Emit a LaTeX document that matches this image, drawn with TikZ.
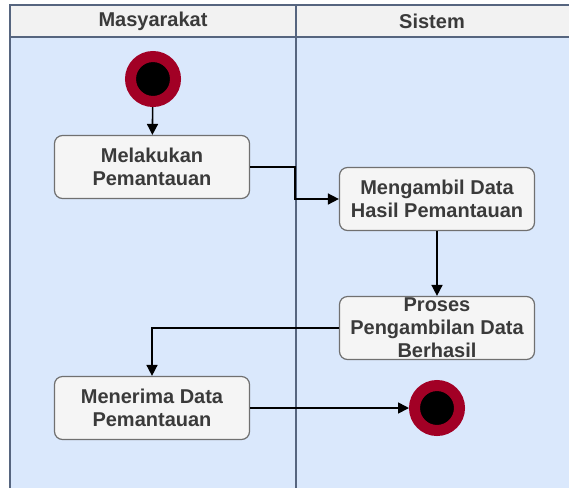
\documentclass[tikz,border=0pt]{standalone}
\usepackage{fontspec}
\setmainfont{Liberation Sans}
\usetikzlibrary{arrows.meta,positioning}
\definecolor{lajur}{HTML}{DAE8FC}
\definecolor{kepala}{HTML}{F2F2F2}
\definecolor{kotak}{HTML}{F5F5F5}
\definecolor{garisKotak}{HTML}{707070}
\definecolor{garisLajur}{HTML}{56657F}
\definecolor{teks}{HTML}{3A3A3A}
\definecolor{merah}{HTML}{A20025}
\tikzset{
    aktivitas/.style={
        rectangle,
        draw=garisKotak,
        fill=kotak,
        rounded corners=8pt,
        align=center,
        line width=1.2pt,
        inner sep=0pt,
        minimum width=195pt,
        minimum height=63pt,
        text=teks,
        font=\fontsize{20}{23}\selectfont\bfseries
    },
    awal/.style={circle, fill=black, draw=merah, line width=11pt,
        minimum size=45pt, inner sep=0pt},
    judul/.style={text=teks, font=\fontsize{20}{23}\selectfont\bfseries},
    alur/.style={-{Triangle[length=11pt,width=11pt]}, line width=1.6pt}
}

\begin{document}
\begin{tikzpicture}[x=1pt, y=-1pt]
    \useasboundingbox (0,0) rectangle (569,488);
    % lajur
    \fill[lajur] (10,37) rectangle (569,488);
    \fill[kepala] (10,5) rectangle (569,37);
    \draw[garisLajur, line width=1.2pt] (10,488) -- (10,5) -- (569,5);
    \draw[garisLajur, line width=1.2pt] (10,37) -- (569,37);
    \draw[garisLajur, line width=1.2pt] (296,5) -- (296,488);
    \node[judul] (masyarakat) at (153,21) {Masyarakat};
    \node[judul] (sistem) at (432,21) {Sistem};

    % aktivitas
    \node[awal] (mulai) at (153,79) {};
    \node[aktivitas] (melakukan) at (152,167) {Melakukan\\Pemantauan};
    \node[aktivitas] (mengambil) at (437,199) {Mengambil Data\\Hasil Pemantauan};
    \node[aktivitas] (proses) at (437,328) {Proses\\Pengambilan Data\\Berhasil};
    \node[aktivitas] (menerima) at (152,408) {Menerima Data\\Pemantauan};
    \node[awal] (akhir) at (437,408) {};

    \draw[alur] (mulai) -- (melakukan);
    \draw[alur] (melakukan.east) -- ++(45,0) |- (mengambil.west);
    \draw[alur] (mengambil) -- (proses);
    \draw[alur] (proses.west) -| (menerima.north);
    \draw[alur] (menerima.east) -- (akhir.west);
\end{tikzpicture}
\end{document}
